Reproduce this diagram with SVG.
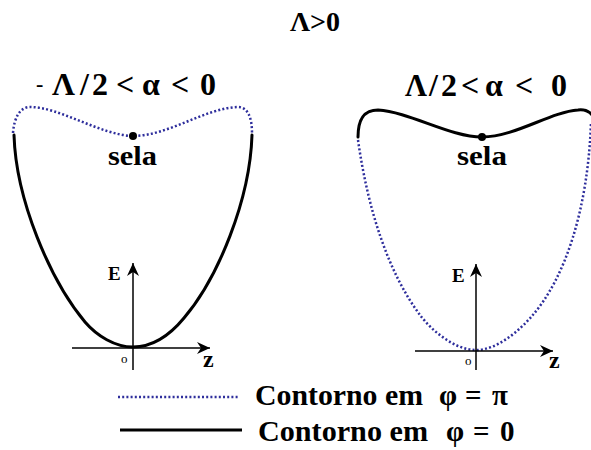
<svg xmlns="http://www.w3.org/2000/svg" width="591" height="450" viewBox="0 0 591 450">
<defs>
<style>
.t{font-family:'Liberation Serif','DejaVu Serif',serif;font-weight:700;fill:#000}
.solid{fill:none;stroke:#000;stroke-width:3;stroke-linecap:round;stroke-linejoin:round}
.dot{fill:none;stroke:#2e2e9c;stroke-width:2.5;stroke-dasharray:2 2.2}
.axis{fill:none;stroke:#000;stroke-width:1.5}
.ah{fill:#000}
</style>
<marker id="arr" viewBox="-14 -7 15 14" refX="0" refY="0" markerWidth="15" markerHeight="14" markerUnits="userSpaceOnUse" orient="auto">
<path class="ah" d="M0,0 L-13,-6 L-9,0 L-13,6 Z"/>
</marker>
</defs>
<rect width="591" height="450" fill="#fff"/>
<g id="title">
<text class="t" x="290" y="31" font-size="28">Λ&gt;0</text>
</g>
<g id="left-panel">
<text class="t" y="95" font-size="32"><tspan x="36" font-size="22" y="91">-</tspan><tspan x="52" y="95">Λ</tspan><tspan x="80">/</tspan><tspan x="92">2</tspan><tspan x="116">&lt;</tspan><tspan x="142">α</tspan><tspan x="171">&lt;</tspan><tspan x="200">0</tspan></text>
<path class="dot" d="M13,133 C14,118 20,107 30,107 C60,107 100,135 133,136 C168,136 205,108 238,107 C248,107 252,118 252,133"/>
<path class="solid" d="M14,135 C16,200 50,280 85,322 C97,336 115,347 133,347 C152,347 170,335 184,318 C218,278 250,200 252,135"/>
<circle cx="133" cy="136" r="4"/>
<text class="t" x="108" y="165" font-size="28" textLength="49" lengthAdjust="spacingAndGlyphs">sela</text>
<line class="axis" x1="133" y1="370" x2="133" y2="263" marker-end="url(#arr)"/>
<line class="axis" x1="72" y1="348" x2="210" y2="348" marker-end="url(#arr)"/>
<text class="t" x="108" y="280" font-size="19">E</text>
<text x="121" y="363" font-size="13" font-family="'Liberation Serif', serif">o</text>
<text class="t" x="203" y="367" font-size="24">z</text>
</g>
<g id="right-panel">
<text class="t" y="96" font-size="32"><tspan x="405" textLength="22" lengthAdjust="spacingAndGlyphs">Λ</tspan><tspan x="429">/</tspan><tspan x="441">2</tspan><tspan x="461">&lt;</tspan><tspan x="485">α</tspan><tspan x="515">&lt;</tspan><tspan x="551">0</tspan></text>
<path class="solid" d="M358,137 C358,122 362,110 378,110 C410,112 450,137 482,137 C515,137 550,112 578,110 C586,109 590,112 593,116"/>
<path class="dot" d="M358,140 C368,210 388,272 420,315 C432,331 455,350 476,350 C497,350 519,331 532,316 C565,278 588,210 591,122"/>
<circle cx="482" cy="137" r="4"/>
<text class="t" x="457" y="165" font-size="28" textLength="50" lengthAdjust="spacingAndGlyphs">sela</text>
<line class="axis" x1="476" y1="370" x2="476" y2="264" marker-end="url(#arr)"/>
<line class="axis" x1="415" y1="351" x2="553" y2="351" marker-end="url(#arr)"/>
<text class="t" x="452" y="282" font-size="19">E</text>
<text x="465" y="365" font-size="13" font-family="'Liberation Serif', serif">o</text>
<text class="t" x="549" y="368" font-size="24">z</text>
</g>
<g id="legend">
<line class="dot" x1="118" y1="397" x2="238" y2="397"/>
<line x1="120" y1="430" x2="242" y2="430" stroke="#000" stroke-width="3"/>
<text class="t" y="405" font-size="29"><tspan x="255" textLength="168" lengthAdjust="spacingAndGlyphs">Contorno em</tspan><tspan x="439">φ</tspan><tspan x="465">=</tspan><tspan x="492">π</tspan></text>
<text class="t" y="441" font-size="29"><tspan x="258" textLength="170" lengthAdjust="spacingAndGlyphs">Contorno em</tspan><tspan x="446">φ</tspan><tspan x="473">=</tspan><tspan x="500">0</tspan></text>
</g>
</svg>
